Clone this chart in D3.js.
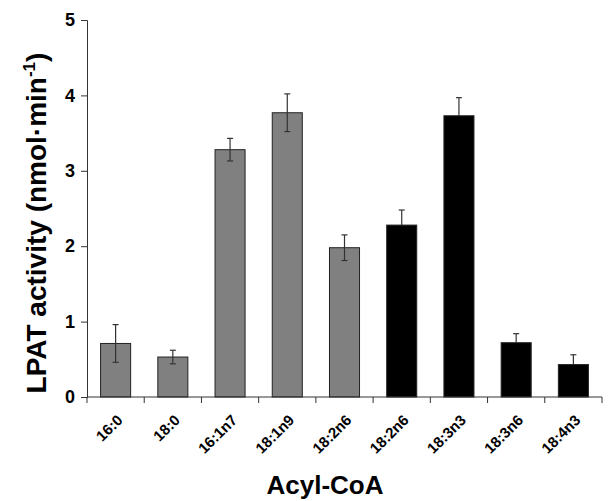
<!DOCTYPE html>
<html><head><meta charset="utf-8">
<script src="https://cdn.jsdelivr.net/npm/d3@7"></script>
<style>body{margin:0;background:#fff}svg{display:block}text{font-family:"Liberation Sans",Arial,sans-serif;font-weight:bold}</style>
</head><body>
<svg id="c" width="616" height="501"></svg>
<script>
const categories = ["16:0","18:0","16:1n7","18:1n9","18:2n6","18:2n6 ","18:3n3","18:3n6","18:4n3"];
const values = [0.71, 0.53, 3.28, 3.77, 1.98, 2.28, 3.73, 0.72, 0.43];
const errors = [0.25, 0.09, 0.15, 0.25, 0.17, 0.2, 0.24, 0.12, 0.13];
const groups = ["grey","grey","grey","grey","grey","black","black","black","black"];
const yTicks = [0,1,2,3,4,5];

const svg = d3.select("#c");
const x = d3.scaleBand().domain(categories).range([87, 602]).paddingInner(0.475).paddingOuter(0.2375);
const y = d3.scaleLinear().domain([0,5]).range([397, 20]);
const fill = {grey:"#808080", black:"#000000"};

// bars
svg.append("g").selectAll("rect").data(categories).join("rect")
  .attr("x", d => x(d)).attr("width", x.bandwidth())
  .attr("y", (d,i) => y(values[i])).attr("height", (d,i) => y(0) - y(values[i]))
  .attr("fill", (d,i) => fill[groups[i]]).attr("stroke", "#222").attr("stroke-width", 1);

// error bars
const eg = svg.append("g").attr("stroke", "#333").attr("stroke-width", 1.2);
categories.forEach((d,i) => {
  const cx = x(d) + x.bandwidth()/2;
  const lo = groups[i] === "grey" ? values[i]-errors[i] : values[i];
  eg.append("line").attr("x1", cx).attr("x2", cx).attr("y1", y(lo)).attr("y2", y(values[i]+errors[i]));
  eg.append("line").attr("x1", cx-3).attr("x2", cx+3).attr("y1", y(values[i]+errors[i])).attr("y2", y(values[i]+errors[i]));
  if (groups[i] === "grey") eg.append("line").attr("x1", cx-3).attr("x2", cx+3).attr("y1", y(lo)).attr("y2", y(lo));
});

// y axis
const ya = svg.append("g").attr("transform","translate(87,0)")
  .call(d3.axisLeft(y).tickValues(yTicks).tickFormat(d3.format("d")).tickSize(6).tickPadding(6));
ya.select(".domain").attr("stroke","#333");
ya.selectAll(".tick line").attr("stroke","#333");
ya.selectAll(".tick text").attr("font-size", 18).attr("fill","#000").attr("font-weight","bold").attr("font-family","Liberation Sans, Arial, sans-serif");

// x axis
const xa = svg.append("g").attr("transform","translate(0,397)");
xa.append("line").attr("x1", 87).attr("x2", 602).attr("y1", 0).attr("y2", 0).attr("stroke","#333");
const bounds = categories.map(d => x(d) - x.step()*x.paddingInner()/2);
bounds.push(602);
xa.selectAll("line.t").data(bounds).join("line").attr("class","t")
  .attr("x1", d => d).attr("x2", d => d).attr("y1", 0).attr("y2", 6).attr("stroke","#333");
const defs = svg.append("defs");
const L = 120;
categories.forEach((d,i) => {
  const ex = x(d) + x.bandwidth()/2 + 8, ey = 397 + 24;
  defs.append("path").attr("id", "lp" + i)
    .attr("d", `M${ex - L*Math.SQRT1_2},${ey + L*Math.SQRT1_2}L${ex},${ey}`);
});
svg.append("g").selectAll("text").data(categories).join("text")
  .attr("font-size", 15).attr("fill","#000").attr("text-anchor","end")
  .append("textPath").attr("href", (d,i) => "#lp" + i).attr("startOffset","100%")
  .text(d => d.trim());

// titles
svg.append("text").attr("x", 325).attr("y", 494).attr("text-anchor","middle")
  .attr("font-size", 26).attr("fill","#000").text("Acyl-CoA");
const yt = svg.append("text").attr("transform","translate(46,223) rotate(-90)")
  .attr("text-anchor","middle").attr("font-size", 28).attr("fill","#000");
yt.append("tspan").text("LPAT activity (nmol\u00b7min");
yt.append("tspan").attr("font-size", 17).attr("dy", -11).text("-1");
yt.append("tspan").attr("dy", 11).text(")");
</script>
</body></html>
